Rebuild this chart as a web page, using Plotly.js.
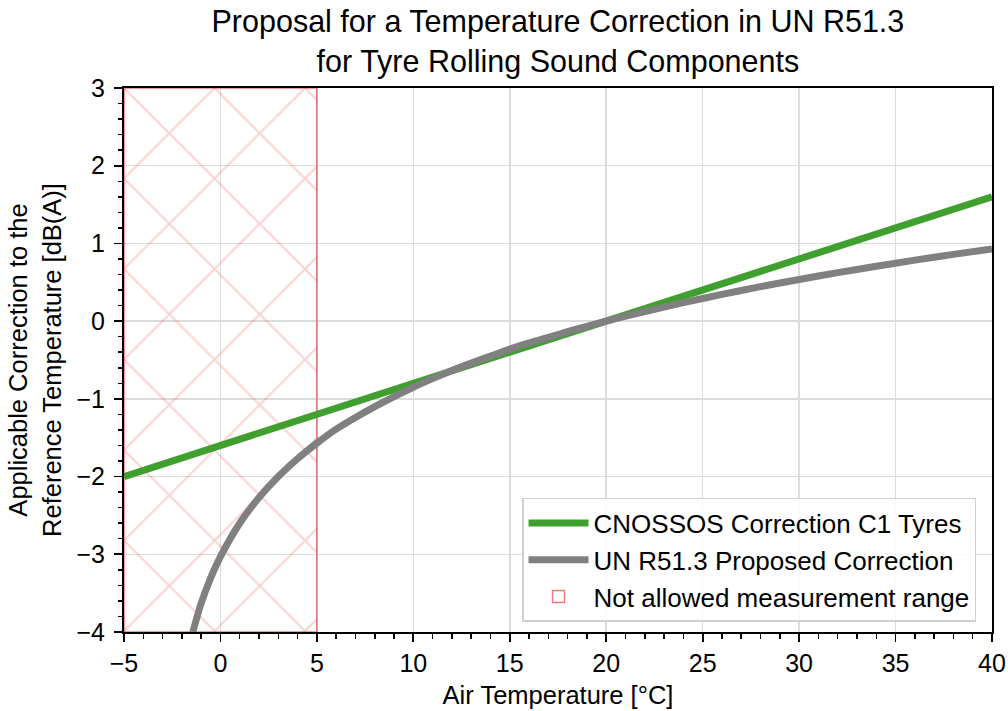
<!DOCTYPE html>
<html>
<head>
<meta charset="utf-8">
<script src="https://cdn.plot.ly/plotly-3.0.1.min.js"></script>
<style>html,body{margin:0;padding:0;background:#fff;}#chart{width:1008px;height:711px;}</style>
</head>
<body>
<div id="chart"></div>
<script>
// CNOSSOS correction C1 tyres (linear)
const cnossosTemp = [-5, 40];
const cnossosCorr = [-2.0, 1.6];

// UN R51.3 proposed correction
const unTemp = [-1.5, -1, -0.5, 0, 1, 2, 3, 4, 5, 6, 7, 8, 9, 10, 11, 12, 13, 14, 15, 16, 17, 18, 19, 20, 22, 24, 26, 28, 30, 32, 34, 36, 38, 40];
const unCorr = [-4.06, -3.63, -3.30, -3.03, -2.60, -2.27, -2.00, -1.77, -1.57, -1.39, -1.24, -1.10, -0.97, -0.85, -0.74, -0.635, -0.54, -0.45, -0.36, -0.28, -0.21, -0.135, -0.066, 0.0, 0.124, 0.238, 0.344, 0.444, 0.536, 0.624, 0.706, 0.785, 0.859, 0.93];

// Not allowed measurement range: from -5 °C to 5 °C over the full y range
const rangeStart = [-5];
const rangeEnd = [5];
const rangeBottom = [-4];
const rangeTop = [3];

const xTicks = [-5, 0, 5, 10, 15, 20, 25, 30, 35, 40];
const yTicks = [-4, -3, -2, -1, 0, 1, 2, 3];

const FONT = 'Liberation Sans, Arial, Helvetica, sans-serif';

const traces = [
  {
    type: 'bar',
    x: rangeStart.map((s, i) => (s + rangeEnd[i]) / 2),
    width: rangeStart.map((s, i) => rangeEnd[i] - s),
    base: rangeBottom,
    y: rangeTop.map((t, i) => t - rangeBottom[i]),
    name: 'Not allowed measurement range', legendrank: 3,
    marker: {
      color: 'rgba(255,255,255,0)',
      pattern: {shape: 'x', fgcolor: 'rgba(240,90,90,0.55)', bgcolor: 'rgba(255,255,255,0)', size: 64, solidity: 0.06, fillmode: 'overlay'},
      line: {color: 'rgba(230,70,70,0.7)', width: 1.5}
    },
    hoverinfo: 'skip'
  },
  {
    x: cnossosTemp, y: cnossosCorr, type: 'scatter', mode: 'lines',
    name: 'CNOSSOS Correction C1 Tyres', legendrank: 1,
    line: {color: '#40a02f', width: 7}
  },
  {
    x: unTemp, y: unCorr, type: 'scatter', mode: 'lines',
    name: 'UN R51.3 Proposed Correction', legendrank: 2,
    line: {color: '#808080', width: 7, shape: 'spline', smoothing: 0.6}
  }
];

const axisCommon = {
  showline: true, linecolor: '#000', linewidth: 2, mirror: true,
  ticks: 'outside', ticklen: 8, tickwidth: 1.8, tickcolor: '#000',
  showgrid: true, gridcolor: '#dcdcdc', gridwidth: 1.5,
  zeroline: false,
  tickfont: {family: FONT, size: 25, color: '#000'},
  layer: 'above traces'
};

const layout = {
  width: 1008, height: 711,
  paper_bgcolor: '#fff', plot_bgcolor: '#fff',
  margin: {l: 124, r: 16, t: 88, b: 79},
  font: {family: FONT, color: '#000'},
  bargap: 0,
  title: {
    text: 'Proposal for a Temperature Correction in UN R51.3<br>for Tyre Rolling Sound Components',
    font: {family: FONT, size: 30.5, color: '#000'},
    x: 0.5535, xanchor: 'center', y: 0.955, yanchor: 'top'
  },
  xaxis: Object.assign({}, axisCommon, {
    range: [-5, 40], tickvals: xTicks,
    minor: {dtick: 1, ticks: 'outside', ticklen: 4.5, tickwidth: 1.5, tickcolor: '#000', showgrid: false},
    title: {text: 'Air Temperature [°C]', font: {family: FONT, size: 25.5, color: '#000'}, standoff: 10}
  }),
  yaxis: Object.assign({}, axisCommon, {
    range: [-4, 3], tickvals: yTicks,
    ticklabelstandoff: 4,
    minor: {dtick: 0.2, ticks: 'outside', ticklen: 4.5, tickwidth: 1.5, tickcolor: '#000', showgrid: false},
    title: {text: 'Applicable Correction to the<br>Reference Temperature [dB(A)]', font: {family: FONT, size: 25.5, color: '#000'}, standoff: 8}
  }),
  legend: {
    x: 0.9816, xanchor: 'right', y: 0.0184, yanchor: 'bottom',
    bgcolor: 'rgba(255,255,255,0.85)', bordercolor: '#d0d0d0', borderwidth: 1.5,
    font: {family: FONT, size: 26, color: '#000'},
    itemwidth: 60
  },
  showlegend: true
};

Plotly.newPlot('chart', traces, layout, {displayModeBar: false, staticPlot: true});
</script>
</body>
</html>
